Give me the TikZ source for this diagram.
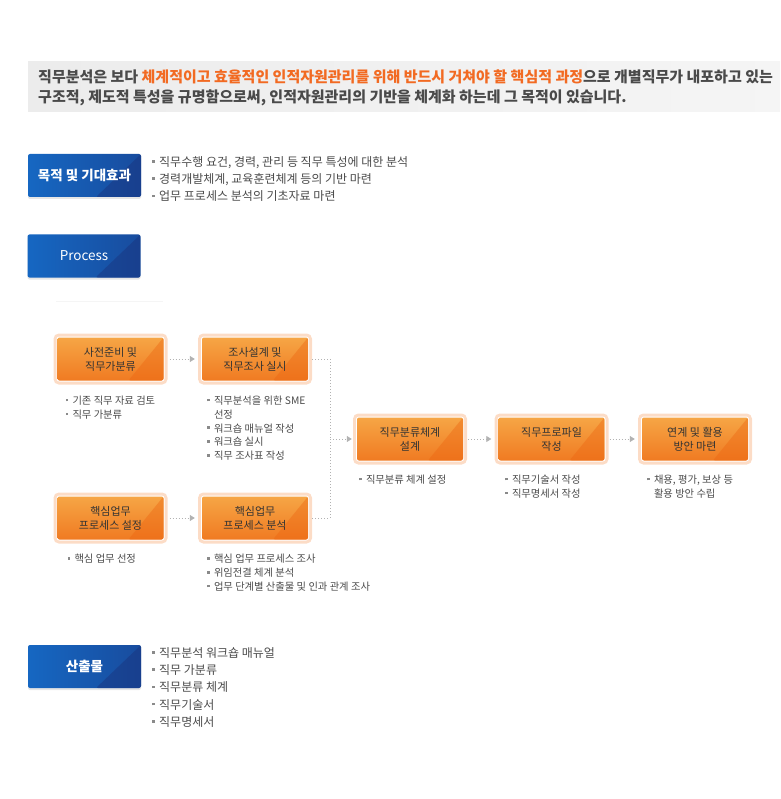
\documentclass[tikz,border=0pt]{standalone}
\usepackage{fontspec}
\setmainfont{Noto Sans CJK KR}
\usetikzlibrary{shapes.geometric, arrows.meta, shadows}
\definecolor{txtdark}{HTML}{333333}
\definecolor{txtgray}{HTML}{4A4A4A}
\definecolor{hilite}{HTML}{F26A22}
\definecolor{bulletc}{HTML}{8A8A8A}
\definecolor{orangeT}{HTML}{F6A645}
\definecolor{orangeB}{HTML}{F07A22}
\definecolor{orangeD}{HTML}{EC6410}
\definecolor{glowc}{HTML}{FCDCC6}
\definecolor{blueL}{HTML}{1667C2}
\definecolor{blueR}{HTML}{184C9E}
\definecolor{blueD}{HTML}{1A327C}
\newcommand{\sqbox}{{\color{bulletc}\rule[0.3em]{2.5pt}{2.5pt}}\hspace{4.5pt}}
\tikzstyle{button} = [rectangle, rounded corners=2pt, minimum width=113pt, minimum height=43pt, text centered, text=white, font=\bfseries\fontsize{13.5}{16}\selectfont, left color=blueL, right color=blueR, drop shadow={shadow xshift=0pt, shadow yshift=-2pt, opacity=0.2}, path picture={\fill[blueD, opacity=0.45] (path picture bounding box.north east) -- (path picture bounding box.south east) -- ([xshift=-45pt]path picture bounding box.south east) -- cycle;}]
\tikzstyle{stage} = [rectangle, rounded corners=2pt, minimum width=106pt, minimum height=43pt, align=center, text=txtdark, font=\fontsize{11}{14}\selectfont, top color=orangeT, bottom color=orangeB, preaction={draw=glowc, line width=8pt}, preaction={draw=white, line width=2pt}, path picture={\fill[orangeD, opacity=0.4] (path picture bounding box.north east) -- (path picture bounding box.south east) -- ([xshift=-35pt]path picture bounding box.south east) -- cycle;}]
\tikzstyle{note} = [anchor=north west, inner sep=0pt, align=left, text=txtgray, font=\fontsize{10.3}{13.8}\selectfont]
\tikzstyle{bignote} = [anchor=north west, inner sep=0pt, align=left, text=txtgray, font=\fontsize{12}{17.3}\selectfont]
\tikzstyle{dots} = [gray!60, line width=0.8pt, dash pattern=on 1pt off 2pt]
\tikzstyle{arrow} = [dots, -{Triangle[length=5pt, width=6pt]}]

\begin{document}
\begin{tikzpicture}[x=1pt, y=1pt, node distance=144.5pt]
		\useasboundingbox (0,0) rectangle (780,-799);
		% intro band
		\fill[left color=gray!15, right color=gray!8] (28,-62) rectangle (780,-112);
		\node (intro) [anchor=west, inner sep=0pt, align=left, text=txtgray, font=\bfseries\fontsize{15}{20}\selectfont] at (38,-88) {직무분석은 보다 \textcolor{hilite}{체계적이고 효율적인 인적자원관리를 위해 반드시 거쳐야 할 핵심적 과정}으로 개별직무가 내포하고 있는\\구조적, 제도적 특성을 규명함으로써, 인적자원관리의 기반을 체계화 하는데 그 목적이 있습니다.};
		% buttons
		\node (goal) [button] at (84.5,-175.5) {목적 및 기대효과};
		\node (goalnote) [bignote] at (152,-156) {\sqbox 직무수행 요건, 경력, 관리 등 직무 특성에 대한 분석\\\sqbox 경력개발체계, 교육훈련체계 등의 기반 마련\\\sqbox 업무 프로세스 분석의 기초자료 마련};
		\node (process) [button, font=\fontsize{13.5}{16}\selectfont] at (84,-256) {Process};
		\draw[gray!8] (56,-301) -- (163,-301);
		% process stages
		\node (prep) [stage] at (110.5,-359) {사전준비 및\\직무가분류};
		\node (survey) [stage, right of = prep] {조사설계 및\\직무조사 실시};
		\node (coreset) [stage, below of = prep, yshift = -14.5pt] {핵심업무\\프로세스 설정};
		\node (coreana) [stage, right of = coreset] {핵심업무\\프로세스 분석};
		\node (classify) [stage, right of = survey, xshift = 10.5pt, yshift = -80pt] {직무분류체계\\설계};
		\node (profile) [stage, right of = classify, xshift = -3pt] {직무프로파일\\작성};
		\node (linkup) [stage, right of = profile, xshift = -1pt] {연계 및 활용\\방안 마련};
		% stage notes
		\node (prepnote) [note] at ([xshift=8pt, yshift=-15pt]prep.south west) {\sqbox 기존 직무 자료 검토\\\sqbox 직무 가분류};
		\node (surveynote) [note] at ([xshift=5pt, yshift=-15pt]survey.south west) {\sqbox 직무분석을 위한 SME\\\hphantom{\sqbox}선정\\\sqbox 워크숍 매뉴얼 작성\\\sqbox 워크숍 실시\\\sqbox 직무 조사표 작성};
		\node (coresetnote) [note] at ([xshift=10pt, yshift=-14.5pt]coreset.south west) {\sqbox 핵심 업무 선정};
		\node (coreananote) [note] at ([xshift=5pt, yshift=-14.5pt]coreana.south west) {\sqbox 핵심 업무 프로세스 조사\\\sqbox 위임전결 체계 분석\\\sqbox 업무 단계별 산출물 및 인과 관계 조사};
		\node (classifynote) [note] at ([xshift=2pt, yshift=-14pt]classify.south west) {\sqbox 직무분류 체계 설정};
		\node (profilenote) [note] at ([xshift=6.5pt, yshift=-14pt]profile.south west) {\sqbox 직무기술서 작성\\\sqbox 직무명세서 작성};
		\node (linkupnote) [note] at ([xshift=5pt, yshift=-14pt]linkup.south west) {\sqbox 채용, 평가, 보상 등\\\hphantom{\sqbox}활용 방안 수립};
		% connectors
		\coordinate (merge) at (330,-439);
		\draw [arrow, shorten <=6pt, shorten >=7pt] (prep) -- (survey);
		\draw [arrow, shorten <=6pt, shorten >=7pt] (coreset) -- (coreana);
		\draw [dots, shorten <=4pt] (survey.east) -| (merge);
		\draw [dots, shorten <=4pt] (coreana.east) -| (merge);
		\draw [arrow, shorten >=5pt] (merge) -- (classify.west);
		\draw [arrow, shorten <=5pt, shorten >=7pt] (classify) -- (profile);
		\draw [arrow, shorten <=5pt, shorten >=7pt] (profile) -- (linkup);
		% outputs
		\node (output) [button] at (84.5,-666.5) {산출물};
		\node (outputnote) [bignote] at (152,-647) {\sqbox 직무분석 워크숍 매뉴얼\\\sqbox 직무 가분류\\\sqbox 직무분류 체계\\\sqbox 직무기술서\\\sqbox 직무명세서};
	\end{tikzpicture}
\end{document}
